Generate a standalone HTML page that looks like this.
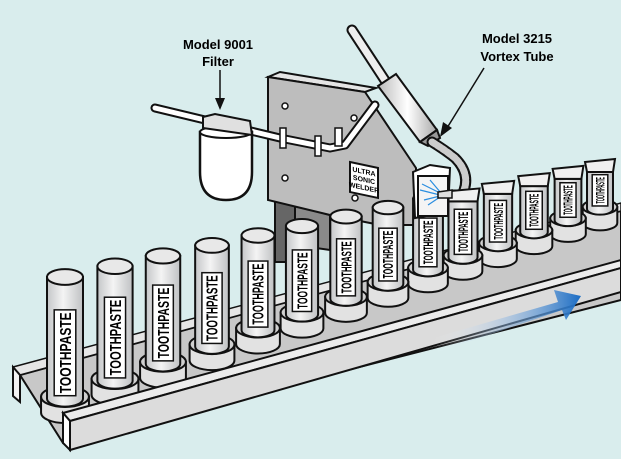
<!DOCTYPE html>
<html><head><meta charset="utf-8"><style>
html,body{margin:0;padding:0;background:#d9eded;}
svg{display:block}
text{font-family:"Liberation Sans",sans-serif;font-weight:bold}
</style></head><body>
<svg id="s" width="621" height="459" viewBox="0 0 621 459" xmlns="http://www.w3.org/2000/svg">
<defs>
<linearGradient id="tg" x1="0" x2="1" y1="0" y2="0">
<stop offset="0" stop-color="#c4c6c8"/><stop offset="0.45" stop-color="#f4f4f4"/><stop offset="1" stop-color="#bfc1c3"/></linearGradient>
<linearGradient id="ba" x1="0" y1="0" x2="1" y2="0">
<stop offset="0" stop-color="#ffffff" stop-opacity="0"/><stop offset="1" stop-color="#1a6cc4"/></linearGradient>
<linearGradient id="vt" x1="0" x2="1"><stop offset="0" stop-color="#bbb"/><stop offset="0.5" stop-color="#fff"/><stop offset="1" stop-color="#aaa"/></linearGradient>
</defs>
<rect width="621" height="459" fill="#d9eded"/>
<polygon points="20,375 621,211 621,300 63,443" fill="#c8c8c8" stroke="#111" stroke-width="2"/>
<polygon points="13,367 621,203 621,211 20,375" fill="#e6e6e6" stroke="#111" stroke-width="1.5"/>
<polygon points="13,367 20,375 20,402 13,396" fill="#f2f2f2" stroke="#111" stroke-width="2"/>
<polygon points="268,77 280,72 376,88 365,92" fill="#e5e5e5" stroke="#111" stroke-width="2"/>
<polygon points="275,200 295,200 295,262 275,262" fill="#666" stroke="#111" stroke-width="2"/>
<polygon points="295,205 330,215 330,250 295,245" fill="#8a8a8a" stroke="#111" stroke-width="2"/>
<polygon points="268,77 365,92 416,168 416,225 380,225 330,215 268,200" fill="#bdbdbd" stroke="#111" stroke-width="2"/>
<g fill="#fff" stroke="#111" stroke-width="1.5">
<circle cx="285" cy="106" r="3"/><circle cx="354" cy="118" r="3"/><circle cx="285" cy="178" r="3"/><circle cx="355" cy="198" r="3"/>
</g>
<g transform="translate(350,162) skewY(12)">
<rect x="0" y="0" width="28" height="30" fill="#fff" stroke="#111" stroke-width="2"/>
<text x="14" y="9" font-size="7" text-anchor="middle">ULTRA</text>
<text x="14" y="17" font-size="7" text-anchor="middle">SONIC</text>
<text x="14" y="25" font-size="7" text-anchor="middle">WELDER</text>
</g>
<path d="M155,108 L280,138 L330,148 L345,145 L375,105" fill="none" stroke="#111" stroke-width="9" stroke-linecap="round" stroke-linejoin="round"/>
<path d="M155,108 L280,138 L330,148 L345,145 L375,105" fill="none" stroke="#fff" stroke-width="5" stroke-linecap="round" stroke-linejoin="round"/>
<g fill="#fff" stroke="#111" stroke-width="1.5"><rect x="280" y="128" width="6" height="20"/><rect x="315" y="136" width="6" height="20"/><rect x="335" y="128" width="7" height="18"/></g>
<path d="M200,132 L252,132 L252,172 Q252,200 226,200 Q200,200 200,172 Z" fill="#fff" stroke="#111" stroke-width="2.5"/>
<ellipse cx="226" cy="132" rx="26" ry="6" fill="#fff" stroke="#111" stroke-width="2"/>
<polygon points="203,117 215,114 250,121 252,135 203,128" fill="#e0e0e0" stroke="#111" stroke-width="2"/>
<path d="M352,30 L388,85" stroke="#111" stroke-width="11" stroke-linecap="round"/>
<path d="M352,30 L388,85" stroke="#eee" stroke-width="7" stroke-linecap="round"/>
<polygon points="378,86 396,74 437,130 420,142" fill="url(#vt)" stroke="#111" stroke-width="2"/>
<polygon points="420,142 437,130 440,138 428,146" fill="#999" stroke="#111" stroke-width="2"/>
<path d="M432,142 Q445,150 455,158 Q472,175 462,195 L448,195" fill="none" stroke="#111" stroke-width="11" stroke-linecap="round"/>
<path d="M432,142 Q445,150 455,158 Q472,175 462,195 L448,195" fill="none" stroke="#ccc" stroke-width="7" stroke-dasharray="4 2" stroke-linecap="round"/>
<g id="tubes"></g>
<polygon points="413,172 430,165 450,168 448,212 415,218" fill="#fff" stroke="#111" stroke-width="2"/>
<rect x="418" y="176" width="30" height="40" fill="#f4f4f4" stroke="#111" stroke-width="2"/>
<g stroke="#2a8ee0" stroke-width="1.2" fill="none"><path d="M420,190 L440,195 M422,184 L440,193 M424,200 L440,196 M428,205 L440,197 M430,180 L441,193"/></g>
<polygon points="438,192 452,190 452,198 438,198" fill="#ddd" stroke="#111" stroke-width="1.5"/>
<polygon points="63,413 621,260 621,268 70,421" fill="#ececec" stroke="#111" stroke-width="2"/>
<polygon points="70,421 621,268 621,292 70,450" fill="#dcdcdc" stroke="#111" stroke-width="2"/>
<polygon points="63,413 70,421 70,450 63,443" fill="#fff" stroke="#111" stroke-width="2"/>
<polygon points="433,338 558,302 554,290 581,296 566,320 562,310 438,352" fill="url(#ba)"/>
<text x="218" y="49" font-size="13" text-anchor="middle">Model 9001</text>
<text x="218" y="66" font-size="13" text-anchor="middle">Filter</text>
<path d="M220,70 L220,100" stroke="#111" stroke-width="1.5"/><polygon points="215,98 225,98 220,110" fill="#111"/>
<text x="517" y="43" font-size="13" text-anchor="middle">Model 3215</text>
<text x="517" y="61" font-size="13" text-anchor="middle">Vortex Tube</text>
<path d="M484,68 L447,128" stroke="#111" stroke-width="1.5"/><polygon points="440,137 443,122 452,128" fill="#111"/>
</svg>
<script>
(function(){
var NS="http://www.w3.org/2000/svg",g=document.getElementById("tubes");
function el(t,a,p){var e=document.createElementNS(NS,t);for(var k in a)e.setAttribute(k,a[k]);(p||g).appendChild(e);return e;}
var xs=[65,115,163,212,258,302,346,388,428,463,498,534,568,600];
for(var i=xs.length-1;i>=0;i--){
 var cx=xs[i],f=i/13,w=36-10*f,cb=423-0.36*(cx-65),ty=277-0.215*(cx-65),crimp=i>=9;
 var cw=w*1.33,ry=w*0.22,cry=ry*1.3,ct=cb-cry-16,grp=el("g",{});
 el("path",{d:"M"+(cx-cw/2)+","+ct+" L"+(cx-cw/2)+","+(cb-cry)+" A"+cw/2+","+cry+" 0 0 0 "+(cx+cw/2)+","+(cb-cry)+" L"+(cx+cw/2)+","+ct+" Z",fill:"#e2e2e2",stroke:"#111","stroke-width":2},grp);
 el("ellipse",{cx:cx,cy:ct,rx:cw/2,ry:cry,fill:"#d0d0d0",stroke:"#111","stroke-width":2},grp);
 var bb=ct+2,h=bb-ty;
 var tp=crimp?ty+10:ty;
 el("path",{d:"M"+(cx-w/2)+","+tp+" L"+(cx-w/2)+","+bb+" A"+w/2+","+ry+" 0 0 0 "+(cx+w/2)+","+bb+" L"+(cx+w/2)+","+tp+" Z",fill:"url(#tg)",stroke:"#111","stroke-width":2},grp);
 if(crimp){el("polygon",{points:(cx-w/2)+","+tp+" "+(cx-w/2-2)+","+ty+" "+(cx+w/2+2)+","+(ty-3)+" "+(cx+w/2)+","+tp,fill:"#f0f0f0",stroke:"#111","stroke-width":2},grp);}
 else el("ellipse",{cx:cx,cy:ty,rx:w/2,ry:ry,fill:"#e8e8e8",stroke:"#111","stroke-width":2},grp);
 var lw=w*0.6,ly1=ty+h*0.27,ly2=bb-3;
 el("rect",{x:cx-lw/2,y:ly1,width:lw,height:ly2-ly1,fill:"#fff",stroke:"#111","stroke-width":1.5},grp);
 var t=el("text",{x:0,y:0,"font-size":Math.min(lw*0.78,16),"text-anchor":"middle",transform:"translate("+(cx+lw*0.28)+","+((ly1+ly2)/2)+") rotate(-90)",textLength:(ly2-ly1-5),lengthAdjust:"spacingAndGlyphs"},grp);
 t.textContent="TOOTHPASTE";
}
})();
</script>
</body></html>
